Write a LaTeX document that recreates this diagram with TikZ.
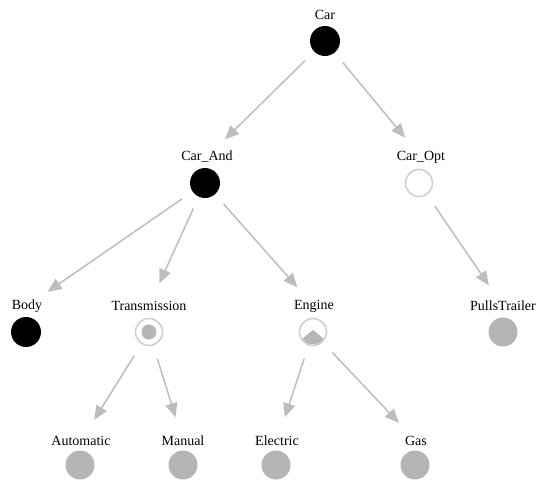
\documentclass[tikz,border=0pt]{standalone}
\usepackage{fontspec}
\setmainfont{Liberation Serif}
\usetikzlibrary{arrows.meta}
\definecolor{edgegray}{HTML}{BDBDBD}
\definecolor{fillgray}{HTML}{B5B5B5}
\definecolor{ringgray}{HTML}{CFCFCF}
\begin{document}
\begin{tikzpicture}[x=1pt,y=-1pt,
  lbl/.style={inner sep=0pt, font=\fontsize{14}{14}\selectfont},
  mand/.style={circle, fill=black, minimum size=30pt, inner sep=0pt},
  opt/.style={circle, draw=ringgray, line width=1.6pt, fill=white, minimum size=27pt, inner sep=0pt},
  leaf/.style={circle, fill=fillgray, minimum size=29pt, inner sep=0pt},
  edge/.style={draw=edgegray, line width=1.5pt, -{Triangle[length=14pt,width=12pt]}, shorten <=28pt, shorten >=25pt}
]
\useasboundingbox (0,0) rectangle (542,483);
% nodes: label + circle
\node[lbl] (carL) at (325,15) {Car};
\node[mand] (carC) at (325,41) {};
\node[lbl] (andL) at (207,157) {Car\_And};
\node[mand] (andC) at (205,183) {};
\node[lbl] (optL) at (421,157) {Car\_Opt};
\node[opt] (optC) at (419,183) {};
\node[lbl] (bodyL) at (27,306) {Body};
\node[mand] (bodyC) at (26,332) {};
\node[lbl] (trL) at (149,306) {Transmission};
\node[opt] (trC) at (149,332) {};
\fill[fillgray] (trC.center) circle (7.5pt);
\node[lbl] (engL) at (314,306) {Engine};
\node[opt] (engC) at (313,332) {};
\fill[fillgray] (engC.center) ++(0,-2) -- ++(-10.6,8.6) arc[start angle=148, end angle=32, radius=12.5] -- cycle;
\node[lbl] (ptL) at (503,306) {PullsTrailer};
\node[leaf] (ptC) at (503,332) {};
\node[lbl] (autoL) at (81,441) {Automatic};
\node[leaf] (autoC) at (80,465) {};
\node[lbl] (manL) at (183,441) {Manual};
\node[leaf] (manC) at (183,465) {};
\node[lbl] (elL) at (277,441) {Electric};
\node[leaf] (elC) at (276,465) {};
\node[lbl] (gasL) at (416,441) {Gas};
\node[leaf] (gasC) at (415,465) {};
% edges
\draw[edge] (carC.center) -- (andL.center);
\draw[edge] (carC.center) -- (optL.center);
\draw[edge] (andC.center) -- (bodyL.center);
\draw[edge] (andC.center) -- (trL.center);
\draw[edge] (andC.center) -- (engL.center);
\draw[edge] (optC.center) -- (ptL.center);
\draw[edge] (trC.center) -- (autoL.center);
\draw[edge] (trC.center) -- (manL.center);
\draw[edge] (engC.center) -- (elL.center);
\draw[edge] (engC.center) -- (gasL.center);
\end{tikzpicture}
\end{document}
